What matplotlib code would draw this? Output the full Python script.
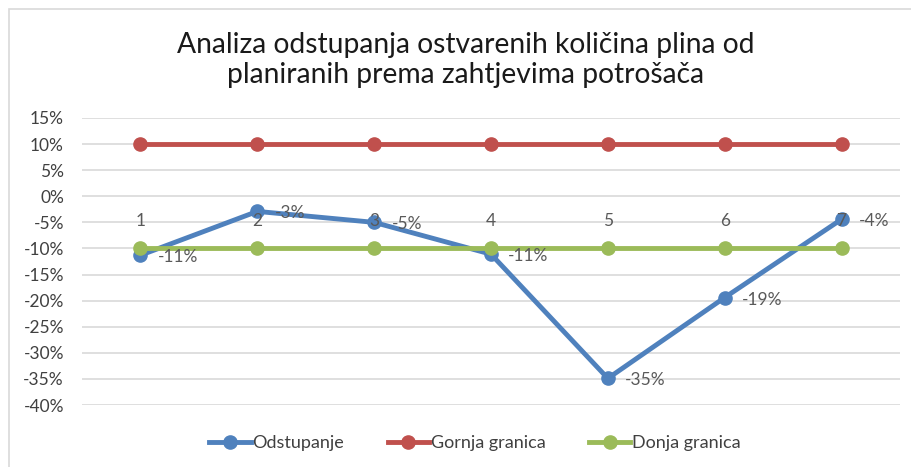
import matplotlib
matplotlib.use("Agg")
import matplotlib.pyplot as plt
from matplotlib.patches import Rectangle
from matplotlib.ticker import FuncFormatter

# data
categories = [1, 2, 3, 4, 5, 6, 7]
odstupanje = [-0.113, -0.029, -0.05, -0.111, -0.349, -0.194, -0.044]
gornja = [0.10, 0.10, 0.10, 0.10, 0.10, 0.10, 0.10]
donja = [-0.10, -0.10, -0.10, -0.10, -0.10, -0.10, -0.10]
y_ticks = [0.15, 0.10, 0.05, 0.0, -0.05, -0.10, -0.15, -0.20, -0.25, -0.30, -0.35, -0.40]

title = "Analiza odstupanja ostvarenih količina plina od\nplaniranih prema zahtjevima potrošača"

plt.rcParams['font.family'] = ['Lato', 'DejaVu Sans']
txt_col = "#595959"
fs = 12.5

fig = plt.figure(figsize=(9.12, 4.67), dpi=100)

# chart frame (cut off on right/bottom like the screenshot)
fig.patches.append(Rectangle((9 / 912, -0.1), 1.2, 1 - 9 / 467 + 0.1,
                             transform=fig.transFigure, fill=False,
                             edgecolor="#D9D9D9", linewidth=1.2))

ax = fig.add_axes([82 / 912, 1 - 405 / 467, 818 / 912, (405 - 118) / 467])

ax.plot(categories, odstupanje, color="#4F81BD", lw=3.5, marker="o", ms=9.5, label="Odstupanje", zorder=3)
ax.plot(categories, gornja, color="#C0504D", lw=3.5, marker="o", ms=9.5, label="Gornja granica", zorder=4)
ax.plot(categories, donja, color="#9BBB59", lw=3.5, marker="o", ms=9.5, label="Donja granica", zorder=5)

for x, v in zip(categories, odstupanje):
    ax.annotate(f"{round(v * 100):.0f}%", (x, v), xytext=(12.5, -1.5), textcoords="offset points",
                ha="left", va="center", fontsize=fs, color=txt_col, zorder=7)

# category labels sit just under the 0% line, drawn over the series
for x in categories:
    ax.annotate(str(x), (x, 0), xytext=(0, -17.5), textcoords="offset points",
                ha="center", va="center", fontsize=fs, color=txt_col, zorder=6)

ax.set_xlim(0.5, 7.5)
ax.set_ylim(-0.40, 0.15)
ax.set_yticks(y_ticks)
ax.yaxis.set_major_formatter(FuncFormatter(lambda v, p: f"{round(v * 100):.0f}%"))
ax.set_xticks([])
ax.tick_params(axis="y", length=0, pad=13, labelsize=fs, labelcolor="#404040")
ax.grid(axis="y", color="#D9D9D9", lw=1.2)
ax.set_axisbelow(True)
for s in ax.spines.values():
    s.set_visible(False)

fig.text(466 / 912, 1 - 60 / 467, title, ha="center", va="center", fontsize=20.3,
         color="#1a1a1a", linespacing=1.2)

fig.legend(loc="center", bbox_to_anchor=(475 / 912, 1 - 443 / 467), ncol=3, frameon=False,
           fontsize=13, handlelength=2.3, handletextpad=0.1, columnspacing=2.4,
           labelcolor="#404040")

fig.savefig("out.png", dpi=100)
